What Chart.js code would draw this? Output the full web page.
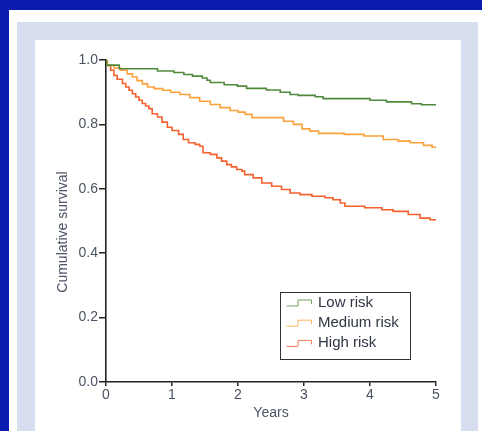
<!DOCTYPE html>
<html>
<head>
<meta charset="utf-8">
<script src="https://cdn.jsdelivr.net/npm/chart.js@4/dist/chart.umd.min.js"></script>
<style>
  html, body { margin: 0; padding: 0; }
  body { width: 482px; height: 431px; background: #0a1cae; position: relative; overflow: hidden; }
  #sheet { position: absolute; left: 9px; top: 10px; width: 473px; height: 421px; background: #fff; }
  #frame { position: absolute; left: 17px; top: 22px; width: 461px; height: 409px; background: #d5ddef; }
  #box { position: absolute; left: 35px; top: 40px; width: 426px; height: 391px; background: #fff; }
</style>
</head>
<body>
<div id="sheet"></div>
<div id="frame"></div>
<div id="box"><canvas id="km"></canvas></div>
<script>
const seriesLabels = ['Low risk', 'Medium risk', 'High risk'];
const seriesColors = ['#4f8a3d', '#fba23c', '#f4602e'];

// years at which each curve steps, and survival after the step
const lowYears = [0, 0.01, 0.20, 0.78, 1.03, 1.18, 1.31, 1.46, 1.53, 1.58, 1.79, 1.99, 2.13, 2.43, 2.64, 2.79, 2.91, 3.17, 3.29, 4.00, 4.25, 4.63, 4.78, 5.0];
const lowSurv  = [1.0, 0.984, 0.973, 0.966, 0.961, 0.955, 0.950, 0.944, 0.937, 0.930, 0.923, 0.919, 0.912, 0.907, 0.900, 0.893, 0.890, 0.886, 0.880, 0.875, 0.870, 0.864, 0.861, 0.861];

const medYears = [0, 0.02, 0.12, 0.22, 0.32, 0.40, 0.47, 0.55, 0.63, 0.73, 0.86, 0.98, 1.12, 1.27, 1.42, 1.58, 1.73, 1.88, 2.00, 2.11, 2.21, 2.54, 2.69, 2.84, 2.97, 3.09, 3.22, 3.61, 3.91, 4.20, 4.43, 4.61, 4.81, 4.94, 5.0];
const medSurv  = [1.0, 0.983, 0.975, 0.968, 0.957, 0.947, 0.936, 0.926, 0.916, 0.911, 0.906, 0.900, 0.893, 0.883, 0.872, 0.862, 0.852, 0.843, 0.838, 0.831, 0.821, 0.821, 0.810, 0.800, 0.786, 0.779, 0.772, 0.769, 0.764, 0.753, 0.748, 0.743, 0.735, 0.729, 0.727];

const highYears = [0, 0.02, 0.07, 0.12, 0.17, 0.25, 0.30, 0.35, 0.40, 0.45, 0.50, 0.55, 0.60, 0.65, 0.70, 0.78, 0.85, 0.93, 1.00, 1.10, 1.17, 1.25, 1.35, 1.42, 1.47, 1.58, 1.68, 1.75, 1.83, 1.90, 1.98, 2.06, 2.10, 2.23, 2.36, 2.51, 2.66, 2.79, 2.94, 3.12, 3.32, 3.44, 3.55, 3.62, 3.92, 4.18, 4.35, 4.58, 4.76, 4.91, 5.0];
const highSurv  = [1.0, 0.983, 0.968, 0.952, 0.940, 0.927, 0.916, 0.906, 0.895, 0.885, 0.875, 0.865, 0.857, 0.849, 0.833, 0.823, 0.807, 0.791, 0.781, 0.769, 0.753, 0.743, 0.738, 0.732, 0.712, 0.707, 0.696, 0.686, 0.675, 0.668, 0.660, 0.655, 0.644, 0.634, 0.618, 0.608, 0.598, 0.587, 0.582, 0.577, 0.572, 0.566, 0.556, 0.546, 0.541, 0.535, 0.530, 0.520, 0.509, 0.504, 0.504];

const yTicks = [0, 0.2, 0.4, 0.6, 0.8, 1.0];
const xTitle = 'Years';
const yTitle = 'Cumulative survival';

const pts = (xs, ys) => xs.map((x, i) => ({ x, y: ys[i] }));
const curves = [pts(lowYears, lowSurv), pts(medYears, medSurv), pts(highYears, highSurv)];

const txt = '#4a5263';
const font = { family: 'Liberation Sans, Arial, sans-serif', size: 14 };

// axis titles + boxed legend with step symbols
const decor = {
  id: 'decor',
  afterDraw(chart) {
    const { ctx, chartArea: a } = chart;
    ctx.save();
    ctx.fillStyle = txt;
    ctx.font = '14px Liberation Sans, Arial, sans-serif';
    ctx.textAlign = 'center';
    ctx.textBaseline = 'middle';
    ctx.fillText(xTitle, (a.left + a.right) / 2, a.bottom + 31);
    ctx.translate(28.5, (a.top + a.bottom) / 2 + 11);
    ctx.rotate(-Math.PI / 2);
    ctx.fillText(yTitle, 0, 0);
    ctx.restore();

    // legend
    const bx = 245, by = 252, bw = 130, bh = 67;
    ctx.save();
    ctx.strokeStyle = '#333';
    ctx.lineWidth = 1;
    ctx.strokeRect(bx + 0.5, by + 0.5, bw, bh);
    ctx.font = '15px Liberation Sans, Arial, sans-serif';
    ctx.textBaseline = 'middle';
    chart.data.datasets.forEach((ds, i) => {
      const y = by + 10.5 + i * 20.2;
      const x0 = bx + 6.5;
      ctx.strokeStyle = ds.borderColor;
      ctx.globalAlpha = 0.8;
      ctx.beginPath();
      ctx.moveTo(x0, y + 3.5);
      ctx.lineTo(x0 + 11.5, y + 3.5);
      ctx.lineTo(x0 + 11.5, y - 2.5);
      ctx.lineTo(x0 + 25, y - 2.5);
      ctx.lineTo(x0 + 25, y + 1.5);
      ctx.stroke();
      ctx.globalAlpha = 1;
      ctx.fillStyle = '#2f3545';
      ctx.fillText(ds.label, bx + 38, y);
    });
    ctx.restore();
  }
};

new Chart(document.getElementById('km'), {
  type: 'line',
  data: {
    datasets: curves.map((d, i) => ({
      label: seriesLabels[i],
      data: d,
      borderColor: seriesColors[i],
      backgroundColor: seriesColors[i],
      borderWidth: 1.6,
      pointRadius: 0,
      stepped: 'before',
      fill: false
    }))
  },
  options: {
    responsive: true,
    maintainAspectRatio: false,
    animation: false,
    events: [],
    layout: { padding: { left: 0, right: 25, top: 20, bottom: 0 } },
    plugins: { legend: { display: false }, tooltip: { enabled: false } },
    scales: {
      x: {
        type: 'linear',
        min: 0, max: 5,
        afterFit: (s) => { s.height = 49; },
        ticks: { stepSize: 1, color: txt, font, padding: 1, maxRotation: 0 },
        grid: { drawOnChartArea: false, drawTicks: true, tickLength: 4, color: '#222', lineWidth: 1.5 },
        border: { display: true, color: '#222', width: 1.6 }
      },
      y: {
        min: 0, max: 1,
        afterFit: (s) => { s.width = 71; },
        afterBuildTicks: (s) => { s.ticks = yTicks.map(v => ({ value: v })); },
        ticks: { color: txt, font, padding: 1, callback: (v) => v.toFixed(1) },
        grid: { drawOnChartArea: false, drawTicks: true, tickLength: 7, color: '#222', lineWidth: 1.5 },
        border: { display: true, color: '#222', width: 1.6 }
      }
    }
  },
  plugins: [decor]
});
</script>
</body>
</html>
